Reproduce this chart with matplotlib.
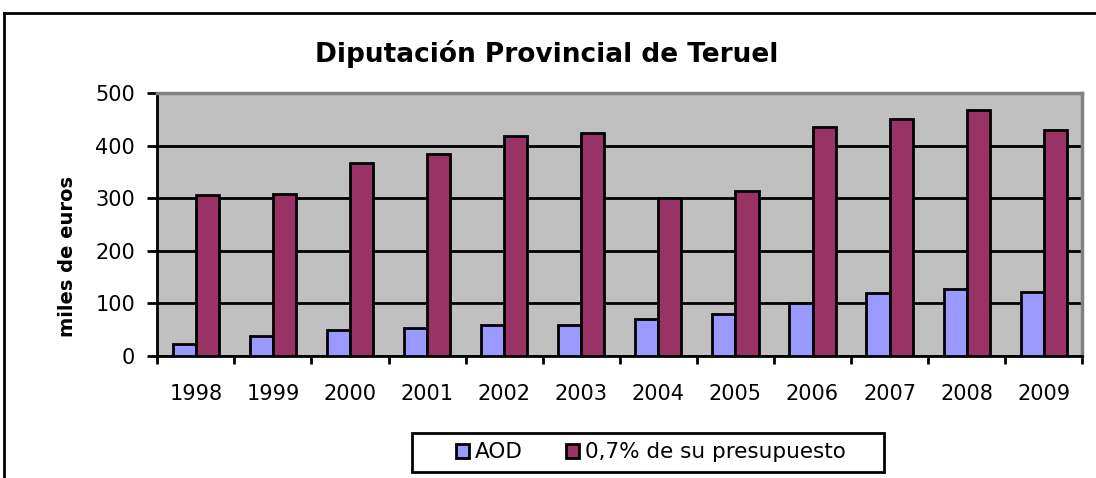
import matplotlib
matplotlib.use('Agg')
import matplotlib.pyplot as plt
from matplotlib.patches import Patch, Rectangle
from matplotlib.lines import Line2D
import numpy as np

# Data (miles de euros)
years = ['1998', '1999', '2000', '2001', '2002', '2003',
         '2004', '2005', '2006', '2007', '2008', '2009']
aod = [22, 39, 49, 53, 59, 59, 70, 80, 100, 120, 127, 122]
presupuesto = [306, 309, 367, 384, 418, 425, 300, 314, 435, 452, 468, 431]
series_names = ['AOD', '0,7% de su presupuesto']
yticks = [0, 100, 200, 300, 400, 500]

W, H = 1096, 478
fig = plt.figure(figsize=(W / 100, H / 100), dpi=100)

# plot area placed in pixel terms
left, right, top, bottom = 157.3, 1082.3, 93.3, 356
ax = fig.add_axes([left / W, (H - bottom) / H, (right - left) / W, (bottom - top) / H])
ax.set_facecolor('#C0C0C0')

x = np.arange(len(years))
bw = 0.3
ax.bar(x - bw / 2, aod, bw, color='#9999FF', edgecolor='black', linewidth=2, zorder=3)
ax.bar(x + bw / 2, presupuesto, bw, color='#993366', edgecolor='black', linewidth=2, zorder=3)

ax.set_xlim(-0.5, len(years) - 0.5)
ax.set_ylim(0, 500)
ax.set_yticks(yticks)
ax.yaxis.grid(True, color='black', linewidth=2)
ax.set_axisbelow(True)

# labels at category centres, tick marks on the boundaries
ax.set_xticks(x)
ax.set_xticklabels(years, fontsize=15)
ax.set_xticks(np.arange(-0.5, len(years)), minor=True)
ax.tick_params(axis='x', which='major', length=0, pad=20)
ax.tick_params(axis='x', which='minor', length=6, width=2, direction='out')
ax.tick_params(axis='y', length=7, width=2, direction='out', labelsize=15, pad=9)

for s in ['top', 'right']:
    ax.spines[s].set_color('#808080')
    ax.spines[s].set_linewidth(2.5)
for s in ['left', 'bottom']:
    ax.spines[s].set_color('black')
    ax.spines[s].set_linewidth(2)

ax.set_ylabel('miles de euros', fontsize=14, fontweight='bold')
ax.yaxis.set_label_coords(-0.087, 0.377)

fig.text(546.5 / W, (H - 61.7) / H, 'Diputación Provincial de Teruel',
         fontsize=19, fontweight='bold', ha='center', va='baseline')

# outer chart border (left and top edges visible)
fig.add_artist(Line2D([3.5 / W, 3.5 / W], [0, (H - 13) / H], color='black', linewidth=2))
fig.add_artist(Line2D([3.5 / W, 1.0], [(H - 13) / H, (H - 13) / H], color='black', linewidth=2))

# legend with its own frame
fig.add_artist(Rectangle((412 / W, (H - 472) / H), 472 / W, 39 / H, transform=fig.transFigure,
                         facecolor='white', edgecolor='black', linewidth=2))
handles = [Patch(facecolor='#9999FF', edgecolor='black', linewidth=2),
           Patch(facecolor='#993366', edgecolor='black', linewidth=2)]
fig.legend(handles, series_names, loc='center', bbox_to_anchor=(651 / W, (H - 452.5) / H),
           ncol=2, frameon=False, fontsize=15.5, handlelength=0.6, handleheight=0.6,
           handletextpad=0.3, columnspacing=2.0)

fig.savefig('out.png', dpi=100)
